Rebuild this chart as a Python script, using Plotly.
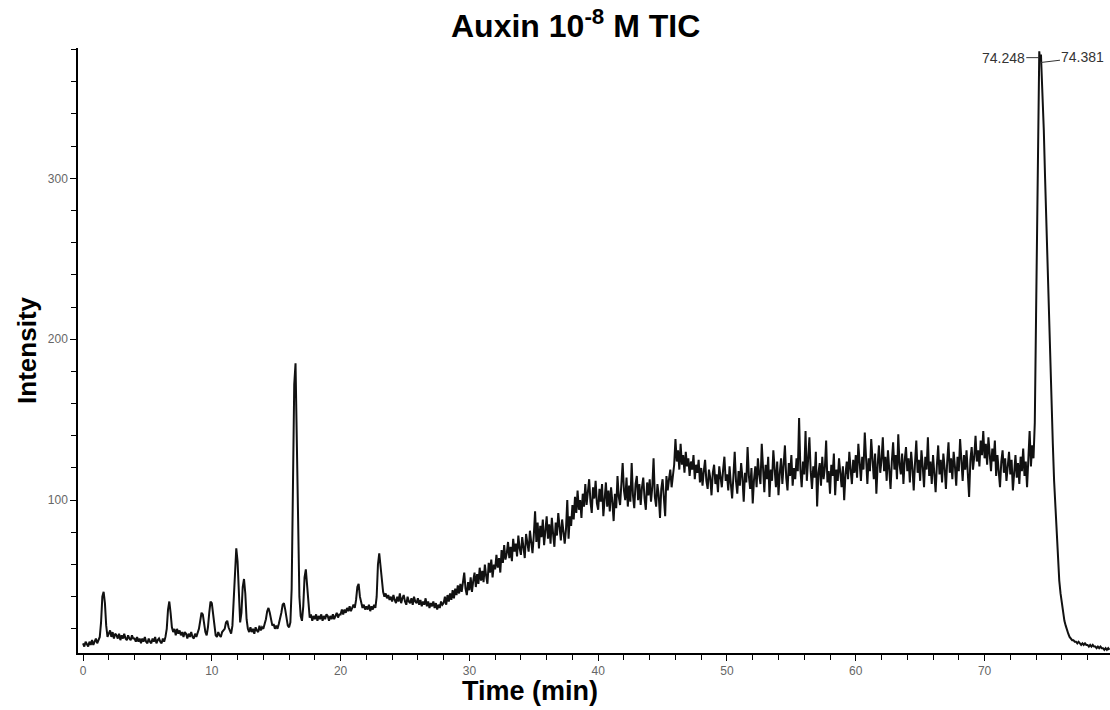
import numpy as np
import plotly.graph_objects as go

# Total ion chromatogram, intensity sampled every 0.1 min.
SAMPLE_STEP = 0.1

# 0.0 - 19.9 min: early eluting peaks
tic_early = [
    11, 9, 12, 10, 9, 12, 10, 13, 10, 12,
    14, 11, 13, 15, 24, 40, 43, 36, 22, 15,
    17, 19, 15, 18, 14, 17, 16, 14, 17, 13,
    16, 14, 17, 14, 13, 16, 14, 13, 16, 14,
    14, 12, 15, 12, 14, 11, 14, 12, 15, 12,
    11, 14, 12, 11, 14, 12, 15, 11, 13, 14,
    12, 11, 14, 12, 15, 20, 32, 37, 30, 21,
    18, 20, 16, 20, 17, 19, 16, 18, 15, 18,
    17, 14, 17, 15, 18, 15, 14, 17, 15, 18,
    20, 25, 30, 29, 22, 18, 16, 21, 30, 37,
    36, 28, 20, 16, 15, 18, 16, 15, 18, 19,
    20, 24, 25, 21, 19, 17, 22, 40, 62, 70,
    62, 42, 24, 30, 46, 51, 42, 26, 20, 18,
    21, 18, 20, 17, 21, 19, 18, 22, 19, 21,
    20, 23, 26, 31, 33, 30, 25, 22, 23, 20,
    22, 20, 23, 26, 30, 35, 36, 32, 25, 22,
    21, 24, 45, 110, 172, 185, 140, 78, 40, 28,
    25, 34, 52, 57, 46, 32, 27, 29, 25, 28,
    26, 29, 25, 28, 26, 29, 25, 28, 26, 29,
    28, 25, 28, 26, 29, 26, 28, 30, 27, 29,
]

# 20.0 - 45.9 min: rising baseline
tic_gradient = [
    29, 32, 29, 32, 30, 33, 31, 34, 31, 33,
    35, 33, 38, 46, 48, 40, 36, 33, 35, 32,
    34, 32, 35, 31, 34, 32, 35, 33, 40, 60,
    67, 58, 47, 43, 40, 42, 39, 41, 38, 40,
    37, 41, 38, 36, 40, 37, 42, 36, 39, 41,
    37, 35, 40, 37, 36, 39, 35, 40, 37, 36,
    39, 35, 38, 34, 37, 35, 39, 34, 37, 33,
    36, 34, 37, 33, 36, 32, 35, 33, 37, 35,
    36, 40, 35, 41, 37, 42, 38, 44, 39, 45,
    41, 47, 42, 48, 43, 50, 55, 45, 41, 49,
    44, 52, 43, 50, 55, 46, 54, 48, 58, 50,
    56, 49, 60, 53, 48, 61, 55, 63, 52, 60,
    57, 66, 58, 64, 55, 69, 61, 72, 63, 67,
    74, 64, 71, 62, 76, 68, 73, 65, 78, 70,
    66, 77, 70, 64, 79, 72, 68, 81, 73, 67,
    78, 93, 74, 86, 70, 84, 77, 88, 72, 83,
    90, 76, 85, 73, 89, 79, 71, 86, 78, 92,
    84, 75, 88, 79, 73, 82, 100, 76, 90, 84,
    97, 88, 102, 92, 106, 94, 100, 89, 104, 96,
    110, 97, 105, 113, 99, 92, 108, 101, 112, 98,
    94, 107, 99, 110, 90, 103, 111, 96, 106, 93,
    108, 99, 87, 104, 95, 115, 102, 97, 110, 123,
    106, 100, 114, 96, 109, 99, 123, 103, 95, 110,
    115, 100, 110, 97, 108, 114, 101, 94, 111, 103,
    113, 99, 108, 126, 102, 96, 110, 103, 89, 107,
    113, 104, 90, 115, 106, 113, 119, 108, 117, 122,
]

# 46.0 - 73.9 min: plateau
tic_plateau = [
    138, 124, 131, 119, 135, 122, 128, 117, 130, 121,
    126, 115, 124, 119, 128, 113, 122, 117, 125, 111,
    120, 109, 118, 125, 112, 107, 119, 114, 103, 117,
    122, 110, 116, 105, 121, 113, 108, 119, 127, 112,
    116, 106, 121, 110, 101, 115, 130, 112, 104, 118,
    109, 123, 114, 99, 117, 111, 133, 115, 107, 120,
    98, 113, 121, 108, 126, 116, 110, 135, 118, 105,
    122, 113, 127, 102, 119, 112, 131, 115, 108, 124,
    103, 117, 126, 110, 121, 134, 114, 106, 123, 115,
    128, 109, 120, 113, 126, 118, 151, 119, 108, 124,
    116, 143, 112, 125, 139, 118, 107, 121, 114, 130,
    96, 117, 123, 109, 127, 113, 120, 137, 111, 118,
    104, 122, 115, 129, 103, 119, 112, 126, 117, 108,
    121, 100, 116, 124, 113, 130, 119, 110, 125, 117,
    128, 114, 135, 121, 112, 127, 119, 142, 123, 110,
    126, 118, 138, 121, 113, 129, 104, 122, 134, 117,
    125, 139, 118, 127, 112, 131, 120, 107, 124, 136,
    119, 128, 113, 141, 122, 116, 129, 110, 125, 133,
    118, 126, 111, 130, 120, 106, 123, 137, 117, 125,
    112, 131, 121, 108, 127, 119, 139, 115, 124, 110,
    128, 118, 105, 122, 134, 116, 125, 111, 129, 120,
    107, 124, 136, 117, 126, 113, 130, 121, 109, 127,
    118, 138, 122, 112, 128, 119, 131, 114, 102, 125,
    133, 119, 127, 140, 124, 131, 121, 137, 128, 143,
    126, 135, 122, 139, 129, 118, 132, 124, 137, 115,
    128, 120, 108, 124, 131, 117, 126, 112, 122, 130,
    116, 125, 106, 121, 128, 114, 123, 110, 127, 118,
    132, 115, 124, 108, 129, 143, 121, 134, 126, 148,
]

# 74.0 - 79.7 min: main peak and tail
tic_main = [
    215, 290, 350, 374, 372, 355, 330, 300, 270, 245,
    222, 190, 162, 135, 112, 96, 78, 62, 50, 42,
    36, 30, 25, 22, 19, 17, 15, 14, 13, 13,
    12, 12, 11, 12, 11, 10, 11, 10, 11, 10,
    10, 9, 10, 9, 10, 9, 9, 8, 9, 8,
    9, 8, 8, 7, 8, 7, 8, 7,
]

# Labelled apex retention times of the main peak
apex_times = [74.248, 74.381]
apex_intensity = [379, 377]
apex_labels = ["74.248", "74.381"]

segments = [(0.0, tic_early), (20.0, tic_gradient), (46.0, tic_plateau), (74.0, tic_main)]

times, values = [], []
for start, vals in segments:
    times.extend(np.round(start + SAMPLE_STEP * np.arange(len(vals)), 3))
    values.extend(vals)
times.extend(apex_times)
values.extend(apex_intensity)

order = np.argsort(times, kind="stable")
t = np.asarray(times)[order]
y = np.asarray(values)[order]

FONT = "Arial, Liberation Sans, Helvetica, sans-serif"

fig = go.Figure()
fig.add_trace(go.Scatter(
    x=t, y=y, mode="lines",
    line=dict(color="#111111", width=2.0),
    showlegend=False, hoverinfo="x+y",
))

# Retention-time labels with leader lines
fig.add_annotation(x=apex_times[0], y=375, text=apex_labels[0],
                   showarrow=True, arrowhead=0, arrowwidth=1, arrowcolor="#333333",
                   ax=-36, ay=0, font=dict(family=FONT, size=14, color="#333333"))
fig.add_annotation(x=apex_times[1], y=372, text=apex_labels[1],
                   showarrow=True, arrowhead=0, arrowwidth=1, arrowcolor="#333333",
                   ax=42, ay=-5, font=dict(family=FONT, size=14, color="#333333"))

# Titles
fig.add_annotation(xref="paper", yref="paper", x=0.4816, y=1.040,
                   text="<b>Auxin 10<sup>-8</sup> M TIC</b>", showarrow=False,
                   xanchor="center", yanchor="middle",
                   font=dict(family=FONT, size=32, color="#000000"))
fig.add_annotation(xref="paper", yref="paper", x=0.438, y=-0.063,
                   text="<b>Time (min)</b>", showarrow=False,
                   xanchor="center", yanchor="middle",
                   font=dict(family=FONT, size=27, color="#000000"))
fig.add_annotation(xref="paper", yref="paper", x=-0.050, y=0.5,
                   text="<b>Intensity</b>", showarrow=False, textangle=-90,
                   xanchor="center", yanchor="middle",
                   font=dict(family=FONT, size=26, color="#000000"))

axis_font = dict(family=FONT, size=12, color="#666666")
fig.update_xaxes(
    range=[-0.39, 79.74], tick0=0, dtick=10,
    ticks="outside", ticklen=6, tickwidth=1, tickcolor="#000000",
    showline=True, linecolor="#000000", linewidth=1.5,
    showgrid=False, zeroline=False, tickfont=axis_font,
    minor=dict(tick0=0, dtick=2, ticks="outside", ticklen=5, tickwidth=1,
               tickcolor="#000000", showgrid=False),
)
fig.update_yaxes(
    range=[5, 381], tick0=0, dtick=100,
    ticks="outside", ticklen=6, tickwidth=1, tickcolor="#000000",
    showline=True, linecolor="#000000", linewidth=1.5,
    showgrid=False, zeroline=False, tickfont=axis_font,
    minor=dict(tick0=0, dtick=20, ticks="outside", ticklen=5, tickwidth=1,
               tickcolor="#000000", showgrid=False),
)

fig.update_layout(
    width=1110, height=710,
    margin=dict(l=78, r=0, t=48, b=57),
    paper_bgcolor="white", plot_bgcolor="white",
    showlegend=False,
)

fig.write_html("out.html")
